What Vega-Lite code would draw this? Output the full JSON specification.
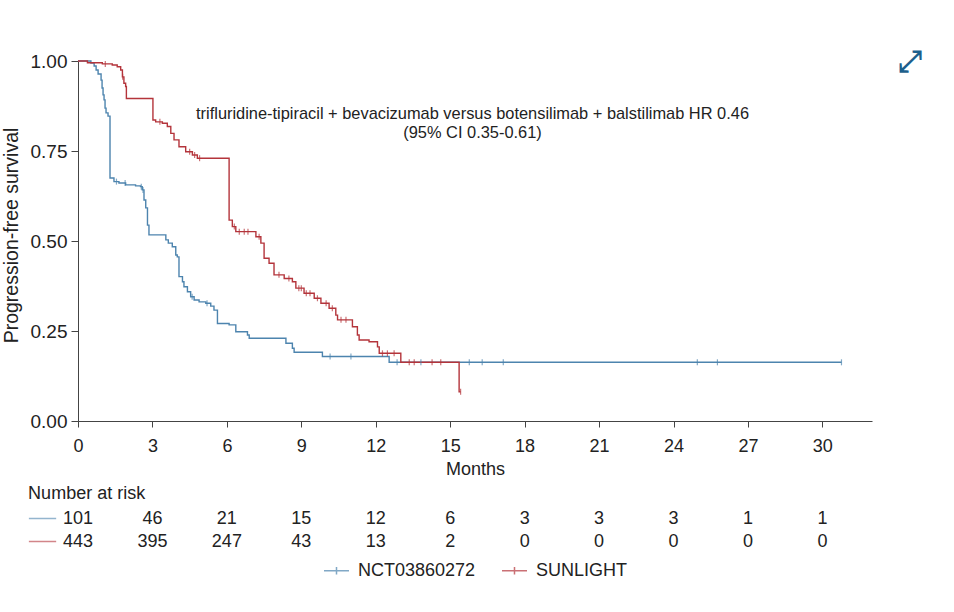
{
  "$schema": "https://vega.github.io/schema/vega-lite/v6.json",
  "padding": {"left": 1, "top": 47, "right": 5, "bottom": 5},
  "background": "white",
  "config": {
    "font": "Liberation Sans",
    "view": {"stroke": null},
    "axis": {"labelFont": "Liberation Sans", "titleFont": "Liberation Sans", "labelColor": "#222", "titleColor": "#222", "domainColor": "#444", "tickColor": "#444", "grid": false, "titleFontWeight": "normal"},
    "legend": {"labelFont": "Liberation Sans"},
    "title": {"font": "Liberation Sans"}
  },
  "datasets": {
    "km": [
      {"series": "NCT03860272", "month": 0, "surv": 1.0},
      {"series": "NCT03860272", "month": 0.52, "surv": 0.994},
      {"series": "NCT03860272", "month": 0.65, "surv": 0.986},
      {"series": "NCT03860272", "month": 0.73, "surv": 0.975},
      {"series": "NCT03860272", "month": 0.81, "surv": 0.964},
      {"series": "NCT03860272", "month": 0.93, "surv": 0.947},
      {"series": "NCT03860272", "month": 0.97, "surv": 0.925},
      {"series": "NCT03860272", "month": 1.01, "surv": 0.906},
      {"series": "NCT03860272", "month": 1.05, "surv": 0.892},
      {"series": "NCT03860272", "month": 1.09, "surv": 0.869},
      {"series": "NCT03860272", "month": 1.13, "surv": 0.856},
      {"series": "NCT03860272", "month": 1.21, "surv": 0.847},
      {"series": "NCT03860272", "month": 1.29, "surv": 0.675},
      {"series": "NCT03860272", "month": 1.45, "surv": 0.665},
      {"series": "NCT03860272", "month": 1.65, "surv": 0.661},
      {"series": "NCT03860272", "month": 1.92, "surv": 0.656},
      {"series": "NCT03860272", "month": 2.32, "surv": 0.653},
      {"series": "NCT03860272", "month": 2.52, "surv": 0.651},
      {"series": "NCT03860272", "month": 2.59, "surv": 0.642},
      {"series": "NCT03860272", "month": 2.66, "surv": 0.614},
      {"series": "NCT03860272", "month": 2.73, "surv": 0.592},
      {"series": "NCT03860272", "month": 2.8, "surv": 0.544},
      {"series": "NCT03860272", "month": 2.86, "surv": 0.517},
      {"series": "NCT03860272", "month": 3.54, "surv": 0.503},
      {"series": "NCT03860272", "month": 3.64, "surv": 0.494},
      {"series": "NCT03860272", "month": 3.8, "surv": 0.484},
      {"series": "NCT03860272", "month": 3.94, "surv": 0.461},
      {"series": "NCT03860272", "month": 4.0, "surv": 0.456},
      {"series": "NCT03860272", "month": 4.07, "surv": 0.401},
      {"series": "NCT03860272", "month": 4.21, "surv": 0.387},
      {"series": "NCT03860272", "month": 4.27, "surv": 0.373},
      {"series": "NCT03860272", "month": 4.41, "surv": 0.359},
      {"series": "NCT03860272", "month": 4.54, "surv": 0.345},
      {"series": "NCT03860272", "month": 4.68, "surv": 0.336},
      {"series": "NCT03860272", "month": 4.88, "surv": 0.331},
      {"series": "NCT03860272", "month": 5.15, "surv": 0.327},
      {"series": "NCT03860272", "month": 5.35, "surv": 0.319},
      {"series": "NCT03860272", "month": 5.48, "surv": 0.308},
      {"series": "NCT03860272", "month": 5.62, "surv": 0.271},
      {"series": "NCT03860272", "month": 6.09, "surv": 0.267},
      {"series": "NCT03860272", "month": 6.36, "surv": 0.248},
      {"series": "NCT03860272", "month": 6.83, "surv": 0.239},
      {"series": "NCT03860272", "month": 6.9, "surv": 0.23},
      {"series": "NCT03860272", "month": 8.38, "surv": 0.216},
      {"series": "NCT03860272", "month": 8.64, "surv": 0.202},
      {"series": "NCT03860272", "month": 8.71, "surv": 0.191},
      {"series": "NCT03860272", "month": 9.85, "surv": 0.179},
      {"series": "NCT03860272", "month": 12.54, "surv": 0.163},
      {"series": "NCT03860272", "month": 30.77, "surv": 0.163},
      {"series": "SUNLIGHT", "month": 0, "surv": 1.0},
      {"series": "SUNLIGHT", "month": 0.38, "surv": 0.995},
      {"series": "SUNLIGHT", "month": 0.98, "surv": 0.992},
      {"series": "SUNLIGHT", "month": 1.38, "surv": 0.989},
      {"series": "SUNLIGHT", "month": 1.58, "surv": 0.984},
      {"series": "SUNLIGHT", "month": 1.72, "surv": 0.975},
      {"series": "SUNLIGHT", "month": 1.79, "surv": 0.956},
      {"series": "SUNLIGHT", "month": 1.85, "surv": 0.938},
      {"series": "SUNLIGHT", "month": 1.92, "surv": 0.929},
      {"series": "SUNLIGHT", "month": 1.95, "surv": 0.896},
      {"series": "SUNLIGHT", "month": 3.02, "surv": 0.836},
      {"series": "SUNLIGHT", "month": 3.13, "surv": 0.831},
      {"series": "SUNLIGHT", "month": 3.4, "surv": 0.827},
      {"series": "SUNLIGHT", "month": 3.6, "surv": 0.818},
      {"series": "SUNLIGHT", "month": 3.74, "surv": 0.799},
      {"series": "SUNLIGHT", "month": 3.87, "surv": 0.781},
      {"series": "SUNLIGHT", "month": 4.07, "surv": 0.762},
      {"series": "SUNLIGHT", "month": 4.34, "surv": 0.748},
      {"series": "SUNLIGHT", "month": 4.61, "surv": 0.739},
      {"series": "SUNLIGHT", "month": 4.81, "surv": 0.73},
      {"series": "SUNLIGHT", "month": 6.09, "surv": 0.558},
      {"series": "SUNLIGHT", "month": 6.22, "surv": 0.54},
      {"series": "SUNLIGHT", "month": 6.36, "surv": 0.526},
      {"series": "SUNLIGHT", "month": 7.17, "surv": 0.512},
      {"series": "SUNLIGHT", "month": 7.37, "surv": 0.494},
      {"series": "SUNLIGHT", "month": 7.5, "surv": 0.452},
      {"series": "SUNLIGHT", "month": 7.7, "surv": 0.438},
      {"series": "SUNLIGHT", "month": 7.9, "surv": 0.406},
      {"series": "SUNLIGHT", "month": 8.31, "surv": 0.396},
      {"series": "SUNLIGHT", "month": 8.64, "surv": 0.387},
      {"series": "SUNLIGHT", "month": 8.78, "surv": 0.369},
      {"series": "SUNLIGHT", "month": 9.11, "surv": 0.355},
      {"series": "SUNLIGHT", "month": 9.52, "surv": 0.341},
      {"series": "SUNLIGHT", "month": 9.79, "surv": 0.327},
      {"series": "SUNLIGHT", "month": 10.12, "surv": 0.313},
      {"series": "SUNLIGHT", "month": 10.39, "surv": 0.294},
      {"series": "SUNLIGHT", "month": 10.46, "surv": 0.281},
      {"series": "SUNLIGHT", "month": 11.06, "surv": 0.262},
      {"series": "SUNLIGHT", "month": 11.26, "surv": 0.239},
      {"series": "SUNLIGHT", "month": 11.33, "surv": 0.225},
      {"series": "SUNLIGHT", "month": 11.73, "surv": 0.22},
      {"series": "SUNLIGHT", "month": 12.07, "surv": 0.206},
      {"series": "SUNLIGHT", "month": 12.14, "surv": 0.188},
      {"series": "SUNLIGHT", "month": 13.01, "surv": 0.163},
      {"series": "SUNLIGHT", "month": 15.36, "surv": 0.081},
      {"series": "SUNLIGHT", "month": 15.42, "surv": 0.081}
    ],
    "censor": [
      {"series": "NCT03860272", "month": 1.55, "surv": 0.665},
      {"series": "NCT03860272", "month": 1.9, "surv": 0.661},
      {"series": "NCT03860272", "month": 2.55, "surv": 0.651},
      {"series": "NCT03860272", "month": 2.62, "surv": 0.642},
      {"series": "NCT03860272", "month": 4.6, "surv": 0.345},
      {"series": "NCT03860272", "month": 5.2, "surv": 0.327},
      {"series": "NCT03860272", "month": 10.16, "surv": 0.179},
      {"series": "NCT03860272", "month": 11.0, "surv": 0.179},
      {"series": "NCT03860272", "month": 12.86, "surv": 0.163},
      {"series": "NCT03860272", "month": 13.82, "surv": 0.163},
      {"series": "NCT03860272", "month": 15.77, "surv": 0.163},
      {"series": "NCT03860272", "month": 16.29, "surv": 0.163},
      {"series": "NCT03860272", "month": 17.14, "surv": 0.163},
      {"series": "NCT03860272", "month": 24.96, "surv": 0.163},
      {"series": "NCT03860272", "month": 25.77, "surv": 0.163},
      {"series": "NCT03860272", "month": 30.77, "surv": 0.163},
      {"series": "SUNLIGHT", "month": 1.1, "surv": 0.992},
      {"series": "SUNLIGHT", "month": 1.8, "surv": 0.956},
      {"series": "SUNLIGHT", "month": 3.3, "surv": 0.831},
      {"series": "SUNLIGHT", "month": 4.5, "surv": 0.748},
      {"series": "SUNLIGHT", "month": 4.7, "surv": 0.739},
      {"series": "SUNLIGHT", "month": 4.9, "surv": 0.73},
      {"series": "SUNLIGHT", "month": 6.3, "surv": 0.54},
      {"series": "SUNLIGHT", "month": 6.5, "surv": 0.526},
      {"series": "SUNLIGHT", "month": 6.7, "surv": 0.526},
      {"series": "SUNLIGHT", "month": 6.85, "surv": 0.526},
      {"series": "SUNLIGHT", "month": 7.3, "surv": 0.512},
      {"series": "SUNLIGHT", "month": 8.1, "surv": 0.406},
      {"series": "SUNLIGHT", "month": 8.5, "surv": 0.396},
      {"series": "SUNLIGHT", "month": 8.9, "surv": 0.369},
      {"series": "SUNLIGHT", "month": 9.0, "surv": 0.369},
      {"series": "SUNLIGHT", "month": 9.2, "surv": 0.355},
      {"series": "SUNLIGHT", "month": 9.35, "surv": 0.355},
      {"series": "SUNLIGHT", "month": 9.65, "surv": 0.341},
      {"series": "SUNLIGHT", "month": 10.0, "surv": 0.327},
      {"series": "SUNLIGHT", "month": 10.25, "surv": 0.313},
      {"series": "SUNLIGHT", "month": 10.6, "surv": 0.281},
      {"series": "SUNLIGHT", "month": 10.8, "surv": 0.281},
      {"series": "SUNLIGHT", "month": 12.27, "surv": 0.188},
      {"series": "SUNLIGHT", "month": 12.47, "surv": 0.188},
      {"series": "SUNLIGHT", "month": 12.74, "surv": 0.188},
      {"series": "SUNLIGHT", "month": 13.35, "surv": 0.163},
      {"series": "SUNLIGHT", "month": 13.55, "surv": 0.163},
      {"series": "SUNLIGHT", "month": 14.27, "surv": 0.163},
      {"series": "SUNLIGHT", "month": 14.62, "surv": 0.163},
      {"series": "SUNLIGHT", "month": 15.42, "surv": 0.081}
    ],
    "risk": [
      {"series": "NCT03860272", "month": 0, "n": 101},
      {"series": "NCT03860272", "month": 3, "n": 46},
      {"series": "NCT03860272", "month": 6, "n": 21},
      {"series": "NCT03860272", "month": 9, "n": 15},
      {"series": "NCT03860272", "month": 12, "n": 12},
      {"series": "NCT03860272", "month": 15, "n": 6},
      {"series": "NCT03860272", "month": 18, "n": 3},
      {"series": "NCT03860272", "month": 21, "n": 3},
      {"series": "NCT03860272", "month": 24, "n": 3},
      {"series": "NCT03860272", "month": 27, "n": 1},
      {"series": "NCT03860272", "month": 30, "n": 1},
      {"series": "SUNLIGHT", "month": 0, "n": 443},
      {"series": "SUNLIGHT", "month": 3, "n": 395},
      {"series": "SUNLIGHT", "month": 6, "n": 247},
      {"series": "SUNLIGHT", "month": 9, "n": 43},
      {"series": "SUNLIGHT", "month": 12, "n": 13},
      {"series": "SUNLIGHT", "month": 15, "n": 2},
      {"series": "SUNLIGHT", "month": 18, "n": 0},
      {"series": "SUNLIGHT", "month": 21, "n": 0},
      {"series": "SUNLIGHT", "month": 24, "n": 0},
      {"series": "SUNLIGHT", "month": 27, "n": 0},
      {"series": "SUNLIGHT", "month": 30, "n": 0}
    ],
    "series": [
      {"series": "NCT03860272"},
      {"series": "SUNLIGHT"}
    ]
  },
  "vconcat": [
    {
      "width": 794,
      "height": 360,
      "layer": [
        {
          "data": {"name": "km"},
          "mark": {"type": "line", "interpolate": "step-after", "strokeWidth": 1.4},
          "encoding": {
            "x": {"field": "month", "type": "quantitative", "scale": {"domain": [0, 32], "nice": false, "zero": false},
              "axis": {"values": [0, 3, 6, 9, 12, 15, 18, 21, 24, 27, 30], "title": "Months", "labelFontSize": 18, "titleFontSize": 18, "tickSize": 6, "labelPadding": 10, "titlePadding": 5, "labelFlush": false}},
            "y": {"field": "surv", "type": "quantitative", "scale": {"domain": [0, 1], "nice": false},
              "axis": {"values": [0, 0.25, 0.5, 0.75, 1], "format": ".2f", "title": "Progression-free survival", "labelFontSize": 19, "titleFontSize": 19.5, "tickSize": 7, "labelPadding": 4, "titlePadding": 9, "titleY": 174, "labelFlush": false}},
            "color": {"field": "series", "type": "nominal",
              "scale": {"domain": ["NCT03860272", "SUNLIGHT"], "range": ["#4d84ae", "#b4343b"]},
              "legend": {"title": null, "orient": "none", "legendX": 245, "legendY": 496, "direction": "horizontal", "labelFontSize": 18, "labelColor": "#222", "symbolType": "M-1,0H1M0,-0.3V0.3", "symbolSize": 625, "symbolStrokeWidth": 1.5, "symbolFillColor": "transparent", "labelOffset": 8, "columnPadding": 23}}
          }
        },
        {
          "data": {"name": "censor"},
          "mark": {"type": "tick", "orient": "vertical", "size": 6, "thickness": 1.2},
          "encoding": {
            "x": {"field": "month", "type": "quantitative"},
            "y": {"field": "surv", "type": "quantitative"},
            "color": {"field": "series", "type": "nominal"}
          }
        },
        {
          "data": {"values": [{"label": "HR"}]},
          "mark": {"type": "text", "fontSize": 16.4, "color": "#222", "align": "center", "baseline": "middle", "lineHeight": 19},
          "encoding": {
            "x": {"datum": 15.9},
            "y": {"datum": 0.853},
            "text": {"value": ["trifluridine-tipiracil + bevacizumab versus botensilimab + balstilimab HR 0.46", "(95% CI 0.35-0.61)"]}
          }
        },
        {
          "data": {"values": [{"label": "icon"}]},
          "mark": {"type": "text", "font": "DejaVu Sans", "fontSize": 30, "fontWeight": "bold", "color": "#1d5f8c", "align": "center", "baseline": "middle"},
          "encoding": {
            "x": {"datum": 33.55},
            "y": {"datum": 0.997},
            "text": {"value": "⤢"}
          }
        }
      ]
    },
    {
      "width": 794,
      "height": 46,
      "title": {"text": "Number at risk", "anchor": "start", "frame": "bounds", "fontSize": 18, "fontWeight": "normal", "color": "#222", "offset": 4},
      "layer": [
        {
          "data": {"name": "series"},
          "mark": {"type": "rule", "strokeWidth": 1.5, "opacity": 0.6},
          "encoding": {
            "x": {"datum": -1.98, "type": "quantitative", "scale": {"domain": [0, 32], "nice": false, "zero": false}, "axis": null},
            "x2": {"datum": -0.88},
            "y": {"field": "series", "type": "nominal", "scale": {"type": "point", "padding": 0.5, "domain": ["NCT03860272", "SUNLIGHT"]}, "axis": null},
            "color": {"field": "series", "type": "nominal"}
          }
        },
        {
          "data": {"name": "risk"},
          "mark": {"type": "text", "fontSize": 18, "color": "#222", "align": "center", "baseline": "middle"},
          "encoding": {
            "x": {"field": "month", "type": "quantitative"},
            "y": {"field": "series", "type": "nominal"},
            "text": {"field": "n", "type": "quantitative"}
          }
        }
      ]
    }
  ],
  "spacing": 7
}
